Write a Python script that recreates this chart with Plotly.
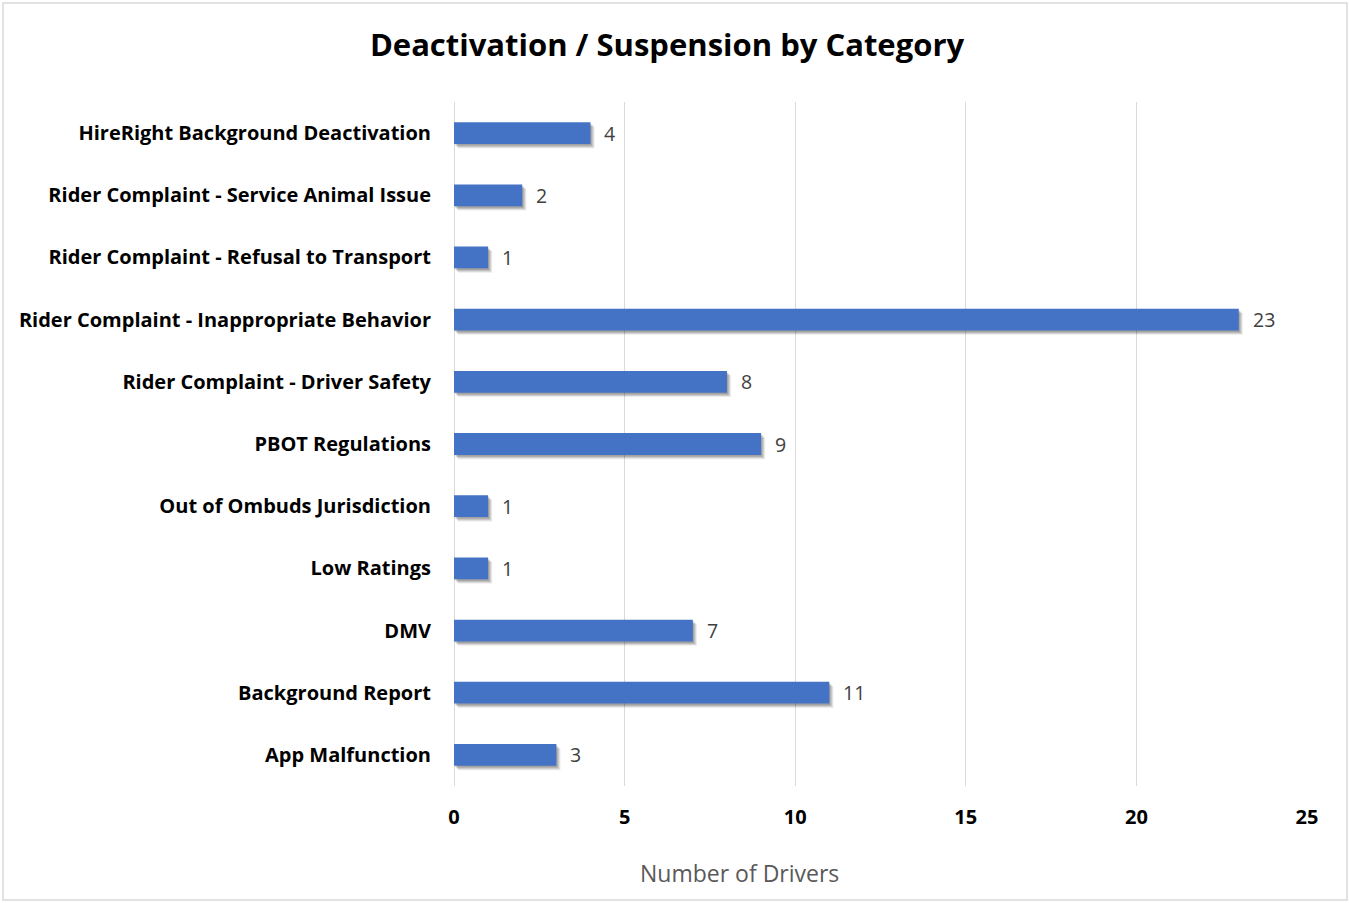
import plotly.graph_objects as go

# Deactivation / suspension counts per category (top to bottom)
categories = [
    "HireRight Background Deactivation",
    "Rider Complaint - Service Animal Issue",
    "Rider Complaint - Refusal to Transport",
    "Rider Complaint - Inappropriate Behavior",
    "Rider Complaint - Driver Safety",
    "PBOT Regulations",
    "Out of Ombuds Jurisdiction",
    "Low Ratings",
    "DMV",
    "Background Report",
    "App Malfunction",
]
drivers = [4, 2, 1, 23, 8, 9, 1, 1, 7, 11, 3]
x_ticks = [0, 5, 10, 15, 20, 25]

FONT = "'Open Sans', sans-serif"
BAR_COLOR = "#4472C4"
W, H = 1349, 903
ML, MR, MT, MB = 454, 42, 102, 117
plot_w = W - ML - MR
plot_h = H - MT - MB

bar_w = 0.35

fig = go.Figure()

# soft drop shadow behind each bar (layers of translucent grey)
for dx, dy, a in [(0.12, 0.07, 0.08), (0.09, 0.055, 0.10), (0.06, 0.04, 0.12), (0.03, 0.025, 0.12)]:
    fig.add_trace(go.Bar(
        y=categories, x=drivers, base=dx, orientation="h",
        width=bar_w, offset=-bar_w / 2 + dy,
        marker=dict(color=f"rgba(0,0,0,{a})", line=dict(width=0)),
        hoverinfo="skip", showlegend=False,
    ))

fig.add_trace(go.Bar(
    y=categories, x=drivers, orientation="h",
    width=bar_w, offset=-bar_w / 2,
    marker=dict(color=BAR_COLOR, line=dict(width=0)),
    showlegend=False,
))

# value labels to the right of each bar
for c, v in zip(categories, drivers):
    fig.add_annotation(
        x=v, y=c, text=str(v), showarrow=False,
        xanchor="left", yanchor="middle", xshift=12,
        font=dict(family=FONT, size=19.5, color="#404040"),
    )

# x-axis title, centred under the whole chart area
fig.add_annotation(
    x=(739 - ML) / plot_w, y=-(873 - (H - MB)) / plot_h,
    xref="paper", yref="paper", text="Number of Drivers", showarrow=False,
    xanchor="center", yanchor="middle",
    font=dict(family=FONT, size=23, color="#595959"),
)

# chart border
fig.add_shape(
    type="rect", xref="paper", yref="paper",
    x0=(3 - ML) / plot_w, x1=(1347 - ML) / plot_w,
    y0=(H - MB - 900) / plot_h, y1=(H - MB - 3) / plot_h,
    line=dict(color="#D9D9D9", width=1.5), fillcolor="rgba(0,0,0,0)", layer="below",
)

fig.update_layout(
    width=W, height=H,
    margin=dict(l=ML, r=MR, t=MT, b=MB, autoexpand=False),
    paper_bgcolor="white", plot_bgcolor="white",
    barmode="overlay",
    title=dict(
        text="<b>Deactivation / Suspension by Category</b>",
        x=667 / W, xanchor="center", y=1 - 45 / H, yanchor="middle",
        font=dict(family=FONT, size=31, color="black"),
    ),
    font=dict(family=FONT),
    xaxis=dict(
        range=[0, 25], tickvals=x_ticks,
        ticktext=[f"<b>{t}</b>" for t in x_ticks],
        showgrid=True, gridcolor="#D9D9D9", gridwidth=1.3,
        zeroline=True, zerolinecolor="#D9D9D9", zerolinewidth=1.3,
        showline=False, ticks="", ticklabelstandoff=17,
        tickfont=dict(family=FONT, size=20, color="black"),
        fixedrange=True,
    ),
    yaxis=dict(
        categoryorder="array", categoryarray=categories,
        autorange="reversed",
        tickvals=categories, ticktext=[f"<b>{c}</b>" for c in categories],
        showgrid=False, zeroline=False, showline=False, ticks="",
        ticklabelstandoff=22,
        tickfont=dict(family=FONT, size=20, color="black"),
        fixedrange=True,
    ),
)

fig.write_html("out.html")
